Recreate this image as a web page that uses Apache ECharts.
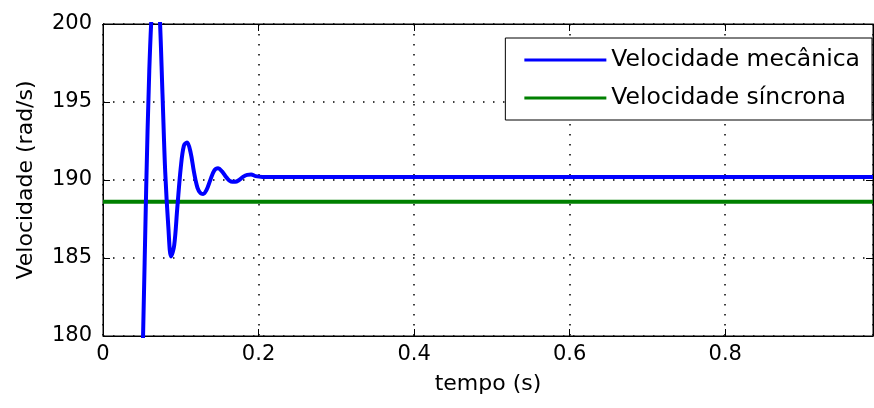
<!DOCTYPE html>
<html>
<head>
<meta charset="utf-8">
<script src="https://cdn.jsdelivr.net/npm/echarts@6/dist/echarts.min.js"></script>
<style>
html,body{margin:0;padding:0;background:#fff;}
#chart{width:874px;height:408px;}
</style>
</head>
<body>
<div id="chart"></div>
<script>
// Data
var seriesNames = ['Velocidade mecânica', 'Velocidade síncrona'];
var timeMec = [0.045, 0.0515, 0.0555, 0.0595, 0.0635, 0.068, 0.0725, 0.0765, 0.080, 0.0840, 0.0875, 0.0915, 0.0955, 0.1000, 0.1040, 0.108, 0.1125, 0.1170, 0.1215, 0.1255, 0.1287, 0.1330, 0.1380, 0.1430, 0.148, 0.1530, 0.1590, 0.1645, 0.170, 0.1750, 0.1800, 0.1855, 0.1905, 0.1960, 0.205, 0.25, 0.35, 0.45, 0.55, 0.65, 0.75, 0.85, 0.95, 0.99];
var velMec  = [168.0, 180.0, 189.4, 197.0, 201.5, 204.0, 201.0, 195.5, 190.5, 187.0, 185.1, 185.8, 188.2, 190.8, 192.2, 192.4, 191.8, 190.5, 189.5, 189.15, 189.1, 189.35, 190.0, 190.6, 190.75, 190.55, 190.15, 189.9, 189.88, 190.0, 190.2, 190.33, 190.35, 190.25, 190.2, 190.2, 190.2, 190.2, 190.2, 190.2, 190.2, 190.2, 190.2, 190.2];
var timeSync = [0, 0.99];
var velSync  = [188.6, 188.6];
var yTicks = [180, 185, 190, 195, 200];
var xTickLabels = ['0', '0.2', '0.4', '0.6', '0.8'];

var mecData = timeMec.map(function (t, i) { return [t, velMec[i]]; });
var syncData = timeSync.map(function (t, i) { return [t, velSync[i]]; });

var FONT = 'DejaVu Sans';
var chart = echarts.init(document.getElementById('chart'), null, {renderer: 'canvas'});

var gridLine = {show: true, lineStyle: {color: '#000', width: 1.5, type: [1.5, 8.5]}};

chart.setOption({
  animation: false,
  backgroundColor: '#fff',
  grid: {left: 103, right: 1, top: 24, bottom: 72, show: true, borderColor: '#000', borderWidth: 1, backgroundColor: 'transparent'},
  legend: {
    right: 2, top: 38,
    orient: 'vertical',
    backgroundColor: '#fff',
    borderColor: '#000', borderWidth: 1, borderRadius: 0,
    padding: [10, 12, 10, 19],
    itemWidth: 82, itemHeight: 24, itemGap: 14,
    textStyle: {fontFamily: FONT, fontSize: 23.5, color: '#000', lineHeight: 24},
    data: seriesNames.map(function (n) { return {name: n, icon: 'path://M0,0 L82,0 L82,3 L0,3 Z'}; }),
    selectedMode: false
  },
  xAxis: [{
    type: 'value', min: 0, max: 0.99, interval: 0.2,
    position: 'bottom',
    name: 'tempo (s)', nameLocation: 'middle', nameGap: 37,
    nameTextStyle: {fontFamily: FONT, fontSize: 22, color: '#000'},
    axisLine: {show: true, onZero: false, lineStyle: {color: '#000', width: 1}},
    axisTick: {show: true, inside: true, length: 7, lineStyle: {color: '#000'}},
    axisLabel: {fontFamily: FONT, fontSize: 21, color: '#000', margin: 8, showMaxLabel: false,
      formatter: function (v) { var i = Math.round(v / 0.2); return (Math.abs(v - i * 0.2) < 1e-6 && i < xTickLabels.length) ? xTickLabels[i] : ''; }},
    splitLine: gridLine
  }, {
    type: 'value', min: 0, max: 0.99, interval: 0.2,
    position: 'top',
    axisLine: {show: true, onZero: false, lineStyle: {color: '#000', width: 1}},
    axisTick: {show: true, inside: true, length: 7, lineStyle: {color: '#000'}},
    axisLabel: {show: false},
    splitLine: {show: false}
  }],
  yAxis: [{
    type: 'value', min: yTicks[0], max: yTicks[yTicks.length - 1], interval: 5,
    position: 'left',
    name: 'Velocidade (rad/s)', nameLocation: 'middle', nameGap: 66,
    nameTextStyle: {fontFamily: FONT, fontSize: 22, color: '#000'},
    axisLine: {show: true, onZero: false, lineStyle: {color: '#000', width: 1}},
    axisTick: {show: true, inside: true, length: 7, lineStyle: {color: '#000'}},
    axisLabel: {fontFamily: FONT, fontSize: 21, color: '#000', margin: 11},
    splitLine: gridLine
  }, {
    type: 'value', min: yTicks[0], max: yTicks[yTicks.length - 1], interval: 5,
    position: 'right',
    axisLine: {show: true, onZero: false, lineStyle: {color: '#000', width: 1}},
    axisTick: {show: true, inside: true, length: 7, lineStyle: {color: '#000'}},
    axisLabel: {show: false},
    splitLine: {show: false}
  }],
  series: [{
    name: seriesNames[0], type: 'line', data: mecData,
    symbol: 'none', smooth: 0.35, clip: true,
    lineStyle: {color: '#0000ff', width: 4},
    itemStyle: {color: '#0000ff'}, z: 3
  }, {
    name: seriesNames[1], type: 'line', data: syncData,
    symbol: 'none', clip: true,
    lineStyle: {color: '#008000', width: 4},
    itemStyle: {color: '#008000'}, z: 2
  }]
});
</script>
</body>
</html>
